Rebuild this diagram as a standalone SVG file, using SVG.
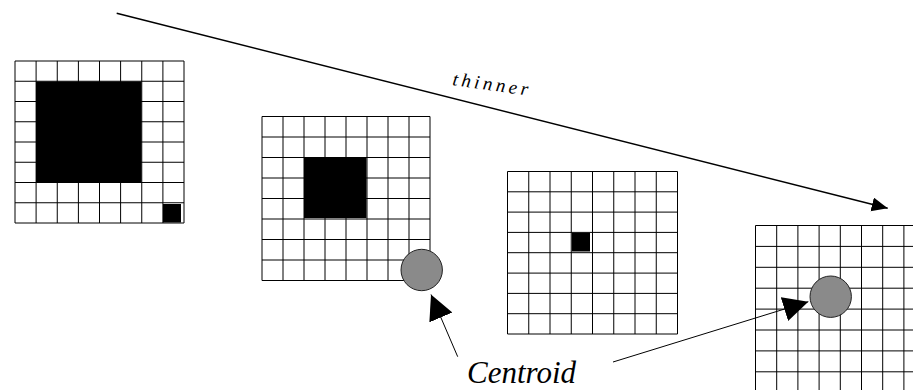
<svg xmlns="http://www.w3.org/2000/svg" width="913" height="390" viewBox="0 0 913 390">
<style>
.grid{fill:none;stroke:#000;stroke-width:1}
.blk{fill:#000}
.dot{fill:#8a8a8a;stroke:#222;stroke-width:1}
.lbl{font-family:"Liberation Serif","DejaVu Serif","Times New Roman",serif;font-style:italic;fill:#000}
.ln{fill:none;stroke:#000}
</style>
<defs>
<marker id="headS" markerUnits="userSpaceOnUse" markerWidth="18" markerHeight="16" refX="16" refY="7" orient="auto">
<path d="M0,0 L16,7 L0,14 Z" fill="#000"/>
</marker>
<marker id="headL" markerUnits="userSpaceOnUse" markerWidth="28" markerHeight="28" refX="25" refY="12.5" orient="auto">
<path d="M0,0 L25,12.5 L0,25 Z" fill="#000"/>
</marker>
</defs>
<rect width="913" height="390" fill="#fff"/>

<g id="grid1">
<rect class="blk" x="36" y="81.5" width="105.5" height="101"/>
<rect class="blk" x="163" y="204" width="18" height="18.5"/>
<path class="grid" d="M15,61V223M36.1,61V223M57.25,61V223M78.4,61V223M99.5,61V223M120.6,61V223M141.75,61V223M162.9,61V223M184,61V223M15,61H184M15,81.25H184M15,101.5H184M15,121.75H184M15,142H184M15,162.25H184M15,182.5H184M15,202.75H184M15,223H184"/>
</g>

<g id="grid2">
<rect class="blk" x="304" y="157.5" width="62.5" height="60.5"/>
<path class="grid" d="M262,116.5V280.5M283,116.5V280.5M304,116.5V280.5M325,116.5V280.5M346,116.5V280.5M367,116.5V280.5M388,116.5V280.5M409,116.5V280.5M430,116.5V280.5M262,116.5H430M262,137H430M262,157.5H430M262,178H430M262,198.5H430M262,219H430M262,239.5H430M262,260H430M262,280.5H430"/>
<circle class="dot" cx="421.7" cy="270" r="20.7"/>
</g>

<g id="grid3">
<rect class="blk" x="572" y="233" width="18" height="18.5"/>
<path class="grid" d="M507.5,171.5V334M528.75,171.5V334M550,171.5V334M571.25,171.5V334M592.5,171.5V334M613.75,171.5V334M635,171.5V334M656.25,171.5V334M677.5,171.5V334M507.5,171.5H677.5M507.5,191.8H677.5M507.5,212.1H677.5M507.5,232.4H677.5M507.5,252.7H677.5M507.5,273.1H677.5M507.5,293.4H677.5M507.5,313.7H677.5M507.5,334H677.5"/>
</g>

<g id="grid4">
<path class="grid" d="M755.5,225.5V390M776.7,225.5V390M797.9,225.5V390M819.1,225.5V390M840.3,225.5V390M861.5,225.5V390M882.7,225.5V390M903.9,225.5V390M755.5,225.5H913M755.5,246.4H913M755.5,267.3H913M755.5,288.2H913M755.5,309.1H913M755.5,330H913M755.5,350.9H913M755.5,371.8H913"/>
<circle class="dot" cx="830.7" cy="296.7" r="20.7"/>
</g>

<g id="connectors">
<line class="ln" x1="116.7" y1="13.3" x2="887.7" y2="208.3" stroke-width="1.6" marker-end="url(#headS)"/>
<line class="ln" x1="457.7" y1="356.7" x2="431" y2="294.5" stroke-width="1" marker-end="url(#headL)"/>
<line class="ln" x1="613" y1="362" x2="808.3" y2="301.7" stroke-width="1" marker-end="url(#headL)"/>
</g>

<g id="labels">
<text class="lbl" x="0" y="0" font-size="19" textLength="76" lengthAdjust="spacing" transform="translate(452 85) rotate(8)">thinner</text>
<text class="lbl" x="467" y="383" font-size="31">Centroid</text>
</g>
</svg>
